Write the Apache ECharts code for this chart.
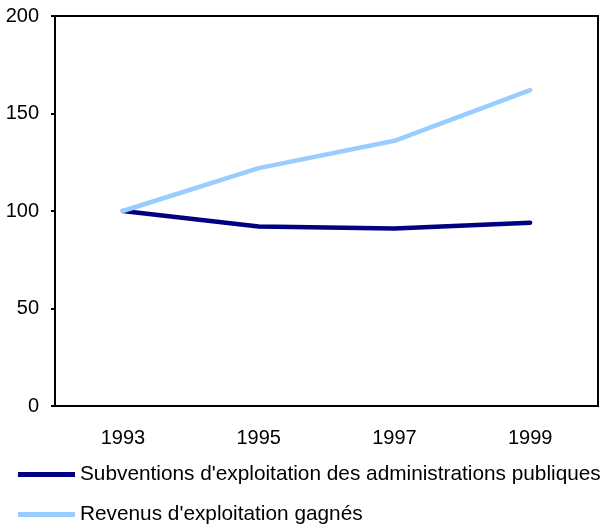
<!DOCTYPE html>
<html><head><meta charset="utf-8">
<script src="https://cdn.jsdelivr.net/npm/echarts@6/dist/echarts.min.js"></script>
<style>html,body{margin:0;padding:0;background:#fff}#c{width:603px;height:529px}</style>
</head><body><div id="c"></div>
<script>
var categories = ['1993', '1995', '1997', '1999'];
var subventions = [100, 92, 91, 94];
var revenus = [100, 122, 136, 162];
var seriesNames = ["Subventions d'exploitation des administrations publiques", "Revenus d'exploitation gagnés"];
var yTicks = [0, 50, 100, 150, 200];

var font = 'Liberation Sans, Arial, sans-serif';
var chart = echarts.init(document.getElementById('c'), null, {renderer: 'canvas'});
chart.setOption({
  animation: false,
  backgroundColor: '#fff',
  grid: {left: 55, right: 5, top: 16, bottom: 123, show: true, borderColor: '#000', borderWidth: 2, backgroundColor: 'transparent'},
  xAxis: {
    type: 'category', data: categories, boundaryGap: true,
    axisLine: {lineStyle: {color: '#000', width: 2}},
    axisTick: {inside: true, length: 5, lineStyle: {color: '#000', width: 2}},
    axisLabel: {color: '#000', fontSize: 20, fontFamily: font, margin: 22},
    splitLine: {show: false}
  },
  yAxis: {
    type: 'value', min: yTicks[0], max: yTicks[yTicks.length - 1], interval: 50,
    axisLine: {show: true, lineStyle: {color: '#000', width: 2}},
    axisTick: {show: true, inside: false, length: 4, lineStyle: {color: '#000', width: 2}},
    axisLabel: {color: '#000', fontSize: 20, fontFamily: font, margin: 16},
    splitLine: {show: false}
  },
  legend: [
    {data: [seriesNames[0]], left: 13, top: 459, icon: 'rect', itemWidth: 57, itemHeight: 5, itemGap: 0,
     textStyle: {color: '#000', fontSize: 20.8, fontFamily: font}},
    {data: [seriesNames[1]], left: 13, top: 499, icon: 'rect', itemWidth: 57, itemHeight: 5, itemGap: 0,
     textStyle: {color: '#000', fontSize: 20.8, fontFamily: font}}
  ],
  series: [
    {name: seriesNames[0], type: 'line', data: subventions, symbol: 'none', color: '#000080',
     lineStyle: {width: 4.5, color: '#000080', cap: 'round', join: 'round'}},
    {name: seriesNames[1], type: 'line', data: revenus, symbol: 'none', color: '#99CCFF',
     lineStyle: {width: 4.5, color: '#99CCFF', cap: 'round', join: 'round'}}
  ]
});
</script></body></html>
